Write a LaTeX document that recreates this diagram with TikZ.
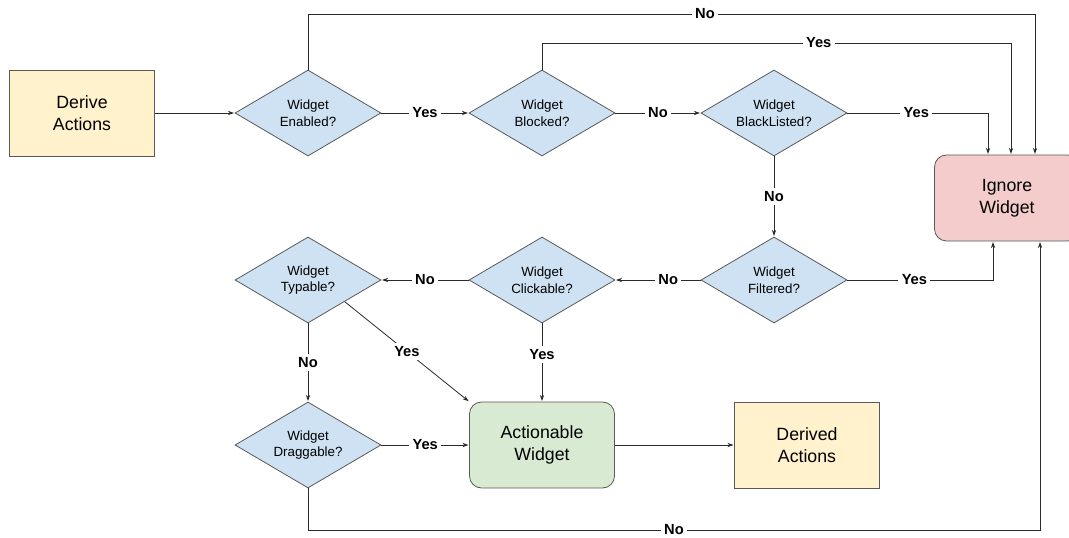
\documentclass[tikz,border=0pt]{standalone}
\usepackage{fontspec}
\setmainfont{Liberation Sans}
\usetikzlibrary{arrows.meta, shapes.geometric, calc}

\definecolor{actionfill}{HTML}{FFF2CC}
\definecolor{decisionfill}{HTML}{CFE2F3}
\definecolor{ignorefill}{HTML}{F4CCCC}
\definecolor{okfill}{HTML}{D9EAD3}
\definecolor{edgegray}{HTML}{595959}
\definecolor{linegray}{HTML}{2B2B2B}

\begin{document}
\begin{tikzpicture}[
            x = 0.75pt, y = -0.75pt, % one unit = one pixel
            > = {Stealth[length=4.5pt, width=3.2pt]}, % arrow head style
            shorten > = 0.5pt, % don't touch arrow head to node
            line width = 0.6pt
        ]

        \tikzstyle{decision}=[
            diamond,
            draw = edgegray,
            fill = decisionfill,
            aspect = 1.7,
            inner sep = 0pt,
            minimum width = 109.5pt,
            minimum height = 64.5pt,
            align = center,
            font = \fontsize{10}{12.5}\selectfont
        ]
        \tikzstyle{block}=[
            rectangle,
            draw = edgegray,
            align = center,
            minimum width = 108.75pt,
            minimum height = 64.5pt,
            font = \fontsize{13.3}{16.3}\selectfont
        ]
        \tikzstyle{flow}=[->, draw = linegray]
        \tikzstyle{lbl}=[fill = white, inner sep = 2.5pt, font = \fontsize{11}{13}\selectfont\bfseries]

        \useasboundingbox (0,0) rectangle (1069,538);

        \node[block, fill = actionfill] (derive) at (82,113) {Derive\\Actions};
        \node[decision] (enabled) at (308,113) {Widget\\Enabled?};
        \node[decision] (blocked) at (542,113) {Widget\\Blocked?};
        \node[decision] (blacklisted) at (774,113) {Widget\\BlackListed?};
        \node[block, fill = ignorefill, rounded corners = 9pt] (ignore) at (1007,198) {Ignore\\Widget};

        \node[decision] (filtered) at (774,280) {Widget\\Filtered?};
        \node[decision] (clickable) at (542,280) {Widget\\Clickable?};
        \node[decision] (typable) at (308,280) {Widget\\Typable?};
        \node[decision] (draggable) at (308,445) {Widget\\Draggable?};

        \node[block, fill = okfill, rounded corners = 9pt] (actionable) at (542,445) {Actionable\\Widget};
        \node[block, fill = actionfill] (derived) at (807,445) {Derived\\Actions};

        % entry points of ignore
        \coordinate (inA) at ($(ignore.north)+(-19,0)$);
        \coordinate (inB) at ($(ignore.north)+(4,0)$);
        \coordinate (inC) at ($(ignore.north)+(28,0)$);
        \coordinate (inD) at ($(ignore.south)+(-14,0)$);
        \coordinate (inE) at ($(ignore.south)+(33,0)$);

        % top row
        \draw[flow] (derive) -- (enabled);
        \draw[flow] (enabled) -- node[lbl] {Yes} (blocked);
        \draw[flow] (blocked) -- node[lbl] {No} (blacklisted);
        \draw[flow] (enabled.north) -- (enabled.north |- 0,14)
            -- node[lbl, pos=0.546] {No} (inC |- 0,14) -- (inC);
        \draw[flow] (blocked.north) -- (blocked.north |- 0,43)
            -- node[lbl, pos=0.59] {Yes} (inB |- 0,43) -- (inB);
        \draw[flow] (blacklisted.east) -- node[lbl, pos=0.49] {Yes} (blacklisted.east -| inA) -- (inA);
        \draw[flow] (blacklisted) -- node[lbl] {No} (filtered);

        % middle row
        \draw[flow] (filtered.east) -- node[lbl, pos=0.46] {Yes} (filtered.east -| inD) -- (inD);
        \draw[flow] (filtered) -- node[lbl, pos=0.38] {No} (clickable);
        \draw[flow] (clickable) -- node[lbl] {No} (typable);
        \draw[flow] (clickable) -- node[lbl, pos=0.4] {Yes} (actionable);
        \draw[flow] (typable.south east) -- node[lbl] {Yes} (actionable.north west);
        \draw[flow] (typable) -- node[lbl] {No} (draggable);

        % bottom row
        \draw[flow] (draggable) -- node[lbl] {Yes} (actionable);
        \draw[flow] (actionable) -- (derived);
        \draw[flow] (draggable.south) -- (draggable.south |- 0,530)
            -- node[lbl, pos=0.5] {No} (inE |- 0,530) -- (inE);

    \end{tikzpicture}
\end{document}
